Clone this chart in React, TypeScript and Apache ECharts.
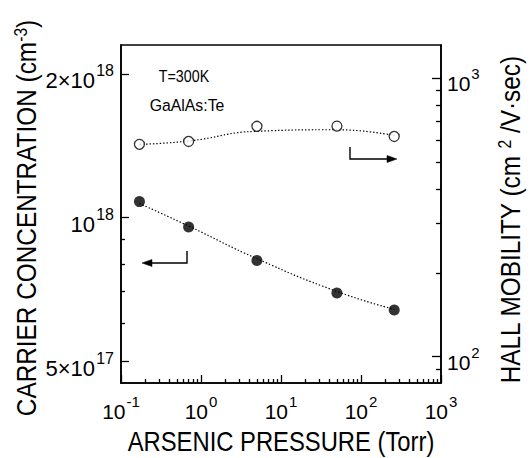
import React, { useEffect, useRef } from 'react';
import * as echarts from 'echarts';

// ---- data ----
const pressure = [0.17, 0.7, 5, 50, 260]; // Torr
const carrierConcentration = [1.08e18, 9.55e17, 8.13e17, 6.95e17, 6.4e17]; // cm^-3
const hallMobility = [578, 592, 671, 672, 617]; // cm^2/V·sec
const concentrationFit = [1.07e18, 9.6e17, 8.2e17, 7.0e17, 6.42e17];
const mobilityFit = [578, 594, 644, 652, 622];

// ---- ticks and tick labels ----
const xMajorTicks = [0.1, 1, 10, 100, 1000];
const xLabelExp = ['-1', '0', '1', '2', '3'];
const xMinorTicks = [
  0.2, 0.3, 0.4, 0.5, 0.6, 0.7, 0.8, 0.9,
  2, 3, 4, 5, 6, 7, 8, 9,
  20, 30, 40, 50, 60, 70, 80, 90,
  200, 300, 400, 500, 600, 700, 800, 900,
];
const leftMajorTicks = [5e17, 1e18, 2e18];
const leftLabelBase = ['5×10', '10', '2×10'];
const leftLabelExp = ['17', '18', '18'];
const leftMinorTicks = [6e17, 7e17, 8e17, 9e17];
const rightMajorTicks = [100, 1000];
const rightLabelExp = ['2', '3'];
const rightMinorTicks = [90, 200, 300, 400, 500, 600, 700, 800, 900];

// ---- titles / annotations ----
const xTitle = 'ARSENIC PRESSURE (Torr)';
const leftTitle = 'CARRIER CONCENTRATION (cm{s|-3})';
const rightTitle = 'HALL MOBILITY (cm {s|2} /V·sec)';
const noteTemp = 'T=300K';
const noteSample = 'GaAlAs:Te';

const X_MIN = 0.1;
const X_MAX = 1000;

const nearestIndex = (arr: number[], v: number) => {
  let best = 0;
  let bd = Infinity;
  arr.forEach((a, i) => {
    const d = Math.abs(Math.log10(a) - Math.log10(v));
    if (d < bd) { bd = d; best = i; }
  });
  return best;
};

const FONT = "'Liberation Sans', Arial, Helvetica, sans-serif";

const makeLabelRich = () => ({
  big: { fontFamily: FONT, fontSize: 21, lineHeight: 33, verticalAlign: 'bottom', color: '#000', fill: '#000' },
  sup: { fontFamily: FONT, fontSize: 15, lineHeight: 33, padding: [5, 0, 0, 1], verticalAlign: 'top', color: '#000', fill: '#000' },
});

export default function App() {
  const ref = useRef<HTMLDivElement>(null);
  useEffect(() => {
    const chart = echarts.init(ref.current!, null, { renderer: 'svg' });
    const titleRich: any = {
      s: { fontFamily: FONT, fontSize: 18, lineHeight: 18, verticalAlign: 'top', fill: '#000' },
    };
    const tickLine = { color: '#000', width: 1.3 };
    const axisLine = { show: true, lineStyle: { color: '#000', width: 1.6 } };
    const labelBase = () => ({
      show: true, rich: makeLabelRich(), fontFamily: FONT, fontSize: 21, color: '#000',
    });

    const option: any = {
      animation: false,
      backgroundColor: '#fff',
      grid: {
        left: 121, top: 45, width: 320, height: 338,
        show: true, borderColor: '#000', borderWidth: 1.6,
        containLabel: false, outerBoundsMode: 'none',
      },
      xAxis: [
        {
          type: 'log', logBase: 10, min: X_MIN, max: X_MAX, position: 'bottom',
          axisLine,
          axisTick: { show: true, inside: true, length: 8, lineStyle: tickLine, customValues: xMajorTicks },
          axisLabel: {
            ...labelBase(), customValues: xMajorTicks, margin: 6,
            formatter: (v: number) => `{big|10}{sup|${xLabelExp[nearestIndex(xMajorTicks, v)]}}`,
          },
          splitLine: { show: false },
        },
        {
          type: 'log', logBase: 10, min: X_MIN, max: X_MAX, position: 'bottom',
          axisLine: { show: false },
          axisTick: { show: true, inside: true, length: 4, lineStyle: tickLine, customValues: xMinorTicks },
          axisLabel: { show: false },
          splitLine: { show: false },
        },
      ],
      yAxis: [
        {
          type: 'log', logBase: 10, min: 4.5e17, max: 2.3e18, position: 'left',
          axisLine,
          axisTick: { show: true, inside: true, length: 8, lineStyle: tickLine, customValues: leftMajorTicks },
          axisLabel: { show: false },
          splitLine: { show: false },
        },
        {
          type: 'log', logBase: 10, min: 4.5e17, max: 2.3e18, position: 'left',
          axisLine: { show: false },
          axisTick: { show: true, inside: true, length: 4, lineStyle: tickLine, customValues: leftMinorTicks },
          axisLabel: { show: false },
          splitLine: { show: false },
        },
        {
          type: 'log', logBase: 10, min: 80.5, max: 1313, position: 'right',
          axisLine,
          axisTick: { show: true, inside: true, length: 9, lineStyle: tickLine, customValues: rightMajorTicks },
          axisLabel: {
            ...labelBase(), customValues: rightMajorTicks, margin: 6,
            formatter: (v: number) => `{big|10}{sup|${rightLabelExp[nearestIndex(rightMajorTicks, v)]}}`,
          },
          splitLine: { show: false },
        },
        {
          type: 'log', logBase: 10, min: 80.5, max: 1313, position: 'right',
          axisLine: { show: false },
          axisTick: { show: true, inside: true, length: 5, lineStyle: tickLine, customValues: rightMinorTicks },
          axisLabel: { show: false },
          splitLine: { show: false },
        },
      ],
      series: [
        {
          type: 'line', xAxisIndex: 0, yAxisIndex: 0, smooth: true, symbol: 'none', silent: true,
          lineStyle: { color: '#000', width: 1.2, type: [1.4, 2] },
          data: pressure.map((p, i) => [p, concentrationFit[i]]), z: 2,
        },
        {
          type: 'line', xAxisIndex: 0, yAxisIndex: 2, smooth: true, symbol: 'none', silent: true,
          lineStyle: { color: '#000', width: 1.2, type: [1.4, 2] },
          data: pressure.map((p, i) => [p, mobilityFit[i]]), z: 2,
        },
        {
          type: 'scatter', xAxisIndex: 0, yAxisIndex: 0, symbol: 'circle', symbolSize: 11,
          itemStyle: { color: '#000' },
          data: pressure.map((p, i) => [p, carrierConcentration[i]]), z: 3,
        },
        {
          type: 'scatter', xAxisIndex: 0, yAxisIndex: 2, symbol: 'circle', symbolSize: 10,
          itemStyle: { color: '#fff', borderColor: '#000', borderWidth: 1.3 },
          data: pressure.map((p, i) => [p, hallMobility[i]]), z: 3,
        },
        {
          // left-axis tick labels, placed through the left axis scale
          type: 'custom', xAxisIndex: 0, yAxisIndex: 0, clip: false, silent: true, z: 5,
          data: leftMajorTicks.map((v, i) => [X_MIN, v, i]),
          renderItem: (params: any, api: any) => {
            const pt = api.coord([api.value(0), api.value(1)]);
            const i = api.value(2);
            return {
              type: 'group',
              children: [
                {
                  type: 'text', x: pt[0] - 7, y: pt[1] + 7,
                  style: {
                    text: leftLabelBase[i], fontFamily: FONT, fontSize: 22, fill: '#000',
                    align: 'right', verticalAlign: 'middle',
                    padding: [0, 19, 0, 0],
                  },
                },
                {
                  type: 'text', x: pt[0] - 7, y: pt[1] - 3,
                  style: {
                    text: leftLabelExp[i], fontFamily: FONT, fontSize: 16, fill: '#000',
                    align: 'right', verticalAlign: 'middle',
                  },
                },
              ],
            };
          },
        },
      ],
      graphic: [
        {
          type: 'text', x: 281, y: 441, scaleX: 0.85, z: 10,
          style: { text: xTitle, font: `28px ${FONT}`, fill: '#000', align: 'center', verticalAlign: 'middle' },
        },
        {
          type: 'text', x: 26, y: 218, rotation: Math.PI / 2, scaleX: 0.87, z: 10,
          style: { text: leftTitle, font: `28px ${FONT}`, fill: '#000', align: 'center', verticalAlign: 'middle', rich: titleRich },
        },
        {
          type: 'text', x: 510, y: 220, rotation: Math.PI / 2, scaleX: 0.87, z: 10,
          style: { text: rightTitle, font: `28px ${FONT}`, fill: '#000', align: 'center', verticalAlign: 'middle', rich: titleRich },
        },
        {
          type: 'text', x: 184, y: 76, scaleX: 0.84, z: 10,
          style: { text: noteTemp, font: `17px ${FONT}`, fill: '#000', align: 'center', verticalAlign: 'middle' },
        },
        {
          type: 'text', x: 187, y: 105, scaleX: 0.93, z: 10,
          style: { text: noteSample, font: `17px ${FONT}`, fill: '#000', align: 'center', verticalAlign: 'middle' },
        },
        {
          type: 'polyline', z: 10,
          shape: { points: [[187, 251], [187, 263], [150, 263]] },
          style: { stroke: '#000', lineWidth: 1.4, fill: null },
        },
        {
          type: 'polygon', z: 10,
          shape: { points: [[142, 263], [152, 259.5], [152, 266.5]] },
          style: { fill: '#000', stroke: '#000', lineWidth: 0.5 },
        },
        {
          type: 'polyline', z: 10,
          shape: { points: [[350, 147], [350, 159], [388, 159]] },
          style: { stroke: '#000', lineWidth: 1.4, fill: null },
        },
        {
          type: 'polygon', z: 10,
          shape: { points: [[397, 159], [387, 155.5], [387, 162.5]] },
          style: { fill: '#000', stroke: '#000', lineWidth: 0.5 },
        },
      ],
    };
    chart.setOption(option);
    return () => chart.dispose();
  }, []);
  return <div ref={ref} style={{ position: 'absolute', left: 0, top: 0, width: 531, height: 458 }} />;
}
